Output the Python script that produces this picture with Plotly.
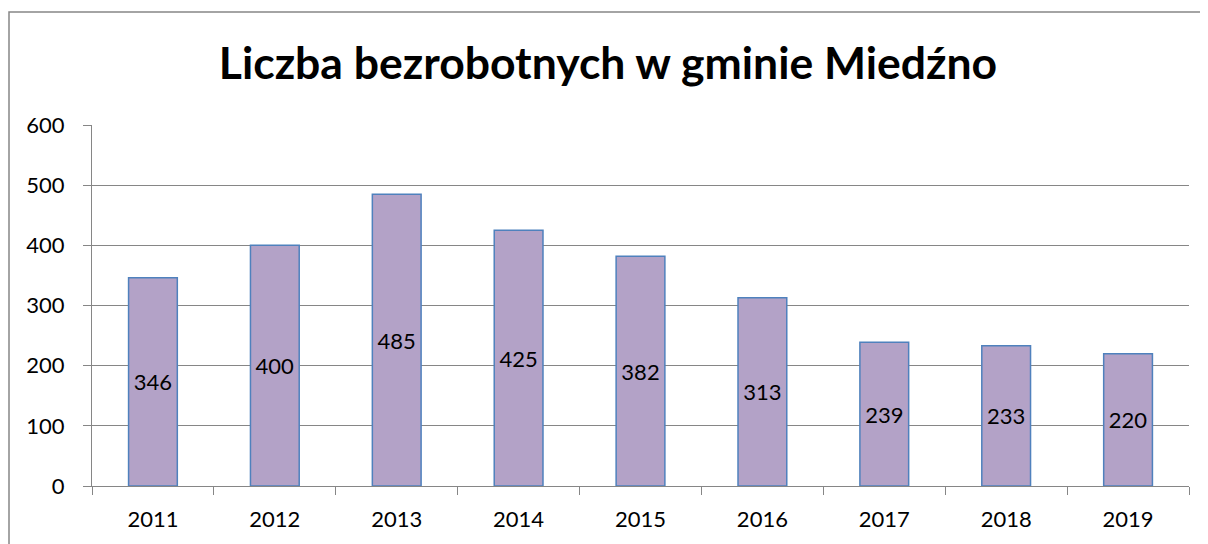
import plotly.graph_objects as go

years = ["2011", "2012", "2013", "2014", "2015", "2016", "2017", "2018", "2019"]
values = [346, 400, 485, 425, 382, 313, 239, 233, 220]
title_text = "Liczba bezrobotnych w gminie Miedźno"

FONT = "Lato, Carlito, Calibri, sans-serif"
GRID = "#868686"

# page has an 8px body margin, so the figure is drawn at (8, 8)
W, H = 1200, 536
L, R, T, B = 84, 19, 117, 58
PW = W - L - R
PH = H - T - B

fig = go.Figure()
fig.add_trace(go.Bar(
    x=years, y=values,
    marker=dict(color="#B3A2C7", line=dict(color="#4F81BD", width=1.5)),
    width=0.4,
    text=[str(v) for v in values],
    textposition="inside",
    insidetextanchor="middle",
    textangle=0,
    textfont=dict(family=FONT, size=22, color="black"),
    cliponaxis=False,
))

fig.update_layout(
    width=W, height=H,
    margin=dict(l=L, r=R, t=T, b=B),
    paper_bgcolor="white", plot_bgcolor="white",
    showlegend=False,
    title=dict(text="<b>" + title_text + "</b>", x=0.5, xanchor="center",
               y=(H - 55) / H, yanchor="middle",
               font=dict(family=FONT, size=44.5, color="black")),
    uniformtext=dict(mode=False),
)
fig.update_yaxes(
    range=[0, 600], dtick=100, showgrid=True, gridcolor=GRID, gridwidth=1,
    showline=True, linecolor=GRID, linewidth=1, ticks="outside", ticklen=8,
    tickcolor=GRID, ticklabelstandoff=14,
    tickfont=dict(family=FONT, size=22, color="black"), zeroline=False,
)
fig.update_xaxes(
    type="category", showline=True, linecolor=GRID, linewidth=1,
    ticks="outside", tickson="boundaries", ticklen=8, tickcolor=GRID,
    ticklabelstandoff=14,
    tickfont=dict(family=FONT, size=22, color="black"), showgrid=False,
)
fig.add_shape(type="rect", xref="paper", yref="paper",
              x0=(1 - L) / PW, x1=1.2, y0=-0.5, y1=(PH + T - 4) / PH,
              line=dict(color=GRID, width=1.5), layer="below")

fig.write_html("out.html")
